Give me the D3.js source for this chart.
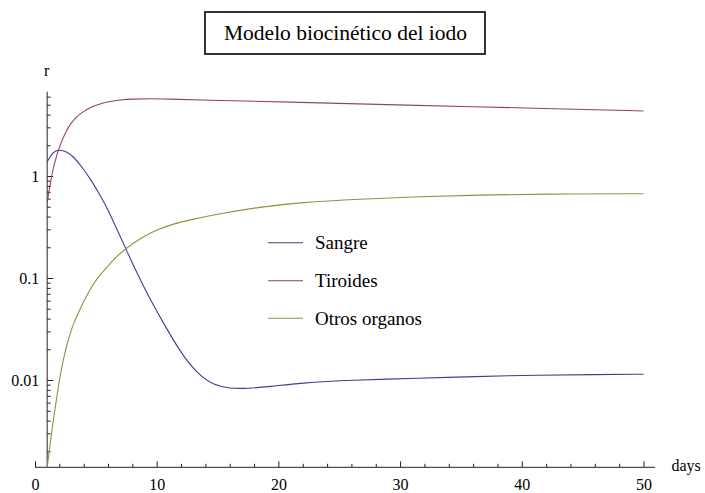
<!DOCTYPE html>
<html><head><meta charset="utf-8">
<script src="https://cdn.jsdelivr.net/npm/d3@7"></script>
<style>
body{margin:0;background:#fff}
svg text{font-family:"Liberation Serif","Times New Roman",Tinos,"Nimbus Roman","DejaVu Serif","Noto Serif",serif}
</style>
</head><body>
<svg id="c" width="705" height="493"></svg>
<script>
const chartTitle = "Modelo biocinético del iodo";
const seriesNames = ["Sangre", "Tiroides", "Otros organos"];
const seriesColors = ["#3d3d99", "#993d71", "#998d3d"];

// time in days
const sangreT = [1.01, 1.40, 1.91, 2.60, 3.15, 3.80, 4.52, 5.20, 5.89, 6.57, 7.40, 8.22, 9.18, 10.54, 11.91, 13.29, 14.65, 16.02, 17.4, 19.31, 21.77, 26, 31.6, 36, 41.5, 46, 50];
const sangreV = [1.381, 1.681, 1.827, 1.739, 1.553, 1.253, 0.945, 0.697, 0.497, 0.331, 0.201, 0.1225, 0.0713, 0.0364, 0.0190, 0.01164, 0.0089, 0.00825, 0.00825, 0.0086, 0.00935, 0.0100, 0.0104, 0.0108, 0.0112, 0.0113, 0.0114];

const tiroidesT = [1.01, 1.23, 1.50, 1.81, 2.19, 2.55, 2.88, 3.37, 3.97, 4.60, 5.34, 6.16, 6.98, 8.08, 9.45, 10.82, 13.56, 21.77, 29.99, 41.5, 50];
const tiroidesV = [0.560, 0.816, 1.198, 1.643, 2.203, 2.731, 3.198, 3.788, 4.290, 4.748, 5.104, 5.400, 5.572, 5.687, 5.726, 5.687, 5.561, 5.28, 4.97, 4.61, 4.34];

const otrosT = [1.00, 1.23, 1.48, 1.73, 1.89, 2.05, 2.30, 2.63, 3.04, 3.62, 4.27, 4.93, 5.75, 6.57, 7.40, 8.63, 10.0, 11.50, 12.74, 15.20, 18.49, 21.77, 26.71, 31.64, 36.57, 41.5, 50];
const otrosV = [0.00139, 0.00231, 0.00388, 0.00608, 0.00816, 0.0107, 0.01536, 0.02254, 0.03309, 0.04748, 0.06813, 0.0935, 0.1212, 0.1571, 0.1924, 0.2439, 0.2989, 0.3422, 0.3720, 0.4289, 0.4967, 0.5498, 0.5949, 0.6267, 0.6513, 0.6661, 0.6707];

const xTicks = [0, 10, 20, 30, 40, 50];
const xMinorTicks = d3.range(0, 51, 2).filter(v => v % 10 !== 0);
const yTicks = [0.01, 0.1, 1];
const yTickLabels = ["0.01", "0.1", "1"];
const xLabel = "days";
const yLabel = "r";

const FONT = '"Liberation Serif","Times New Roman",Tinos,"Nimbus Roman","DejaVu Serif","Noto Serif",serif';
const svg = d3.select("#c");
const axisColor = "#222";

const x = d3.scaleLinear().domain([0, 50]).range([35, 643.5]);
const y = d3.scaleLog().domain([0.01, 1]).range([380, 176]);
const axisY = 467.3, axisTop = 91.7;
const yMin = y.invert(axisY), yMax = y.invert(axisTop);
const yAxisT = 1;
const yAxisX = x(yAxisT);

// title box
const tb = svg.append("g");
tb.append("rect").attr("x", 205).attr("y", 12).attr("width", 280).attr("height", 42)
  .attr("fill", "#fff").attr("stroke", "#000").attr("stroke-width", 1.6);
tb.append("text").attr("x", 345.5).attr("y", 39.5).attr("text-anchor", "middle")
  .attr("font-family", FONT).attr("font-size", 21.5).attr("fill", "#000").text(chartTitle);

// minor y ticks
const yMinor = [];
[0.001, 0.01, 0.1, 1].forEach(d => { for (let k = 2; k <= 9; k++) { const v = k * d; if (v > yMin && v < yMax) yMinor.push(v); } });

// y axis
const gy = svg.append("g").attr("transform", `translate(${yAxisX},0)`);
gy.append("line").attr("x1", 0).attr("x2", 0).attr("y1", axisY).attr("y2", axisTop)
  .attr("stroke", axisColor).attr("stroke-width", 1);
gy.append("g").call(d3.axisLeft(y).tickValues(yMinor).tickSizeInner(-3.5).tickSizeOuter(0).tickFormat(""))
  .call(g => g.select(".domain").remove())
  .call(g => g.selectAll("line").attr("stroke", axisColor));
gy.append("g").call(d3.axisLeft(y).tickValues(yTicks).tickSizeInner(-6).tickSizeOuter(0).tickPadding(8)
    .tickFormat((d, i) => yTickLabels[i]))
  .attr("font-family", FONT)
  .call(g => g.select(".domain").remove())
  .call(g => g.selectAll("line").attr("stroke", axisColor))
  .call(g => g.selectAll("text").attr("font-size", 16).attr("fill", "#000").attr("font-family", FONT));

// x axis
const gx = svg.append("g").attr("transform", `translate(0,${axisY})`);
gx.append("line").attr("x1", x(0)).attr("x2", x(50.95)).attr("y1", 0).attr("y2", 0)
  .attr("stroke", axisColor).attr("stroke-width", 1);
gx.append("g").call(d3.axisBottom(x).tickValues(xMinorTicks).tickSizeInner(-3.5).tickSizeOuter(0).tickFormat(""))
  .call(g => g.select(".domain").remove())
  .call(g => g.selectAll("line").attr("stroke", axisColor));
gx.append("g").call(d3.axisBottom(x).tickValues(xTicks).tickSizeInner(-6).tickSizeOuter(0).tickPadding(11)
    .tickFormat(d3.format("d")))
  .attr("font-family", FONT)
  .call(g => g.select(".domain").remove())
  .call(g => g.selectAll("line").attr("stroke", axisColor))
  .call(g => g.selectAll("text").attr("font-size", 16).attr("fill", "#000").attr("font-family", FONT));

// axis labels
svg.append("text").attr("x", yAxisX - 0.5).attr("y", 76).attr("text-anchor", "middle")
  .attr("font-family", FONT).attr("font-size", 16).attr("fill", "#000").text(yLabel);
svg.append("text").attr("x", 671.5).attr("y", 470.5)
  .attr("font-family", FONT).attr("font-size", 16).attr("fill", "#000").text(xLabel);

// curves
const line = d3.line().x(d => x(d[0])).y(d => y(d[1])).curve(d3.curveBasis);
const series = [
  sangreT.map((t, i) => [t, sangreV[i]]),
  tiroidesT.map((t, i) => [t, tiroidesV[i]]),
  otrosT.map((t, i) => [t, otrosV[i]])
];
series.forEach((s, i) => {
  svg.append("path").datum(s).attr("d", line).attr("fill", "none")
    .attr("stroke", seriesColors[i]).attr("stroke-width", 1.1);
});

// legend
const legendY = [242.7, 280.7, 318.3];
const lg = svg.append("g");
seriesNames.forEach((n, i) => {
  lg.append("line").attr("x1", 268).attr("x2", 303).attr("y1", legendY[i]).attr("y2", legendY[i])
    .attr("stroke", seriesColors[i]).attr("stroke-width", 1.1);
  lg.append("text").attr("x", 315).attr("y", legendY[i] + 6.5)
    .attr("font-family", FONT).attr("font-size", 19).attr("fill", "#000").text(n);
});
</script>
</body></html>
